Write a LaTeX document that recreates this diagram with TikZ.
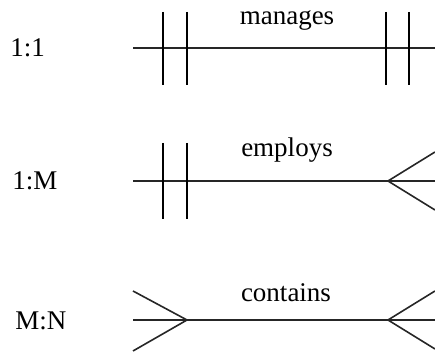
\documentclass[tikz,border=0pt]{standalone}
\usepackage{fontspec}
\setmainfont{Liberation Serif}
\usetikzlibrary{positioning}

\begin{document}
\begin{tikzpicture}[
  x=0.5pt, y=-0.5pt,
  ratio/.style={font=\fontsize{13.5}{16}\selectfont, anchor=base west, inner sep=0pt},
  relname/.style={font=\fontsize{13.5}{16}\selectfont, anchor=base, inner sep=0pt},
  link/.style={draw=black!85, line width=0.8pt},
  bar/.style={draw=black, line width=0.9pt},
  crow/.style={draw=black!85, line width=0.8pt}
]
  \useasboundingbox (0,0) rectangle (435,356);

  \node[ratio] (oneone) at (10,57) {1:1};
  \node[ratio] (onemany) at (12,190) {1:M};
  \node[ratio] (manymany) at (15,330) {M:N};

  \node[relname] (manages) at (287,25) {manages};
  \node[relname] (employs) at (287,157) {employs};
  \node[relname] (contains) at (286,302) {contains};

  % 1:1 -- manages
  \coordinate (ma) at (133,48);
  \coordinate (mb) at (435,48);
  \draw[link] (ma) -- (mb);
  \foreach \x in {163,187,386,409}
    \draw[bar] (\x,12) -- (\x,85);

  % 1:M -- employs
  \coordinate (ea) at (133,181);
  \coordinate (eb) at (435,181);
  \coordinate (etip) at (388,181);
  \draw[link] (ea) -- (eb);
  \foreach \x in {163,187}
    \draw[bar] (\x,143) -- (\x,219);
  \draw[crow] (435,152) -- (etip) -- (435,210);

  % M:N -- contains
  \coordinate (ca) at (133,320);
  \coordinate (cb) at (435,320);
  \coordinate (cltip) at (187,320);
  \coordinate (crtip) at (388,320);
  \draw[link] (ca) -- (cb);
  \draw[crow] (133,291) -- (cltip) -- (133,351);
  \draw[crow] (435,291) -- (crtip) -- (435,349);
\end{tikzpicture}
\end{document}
